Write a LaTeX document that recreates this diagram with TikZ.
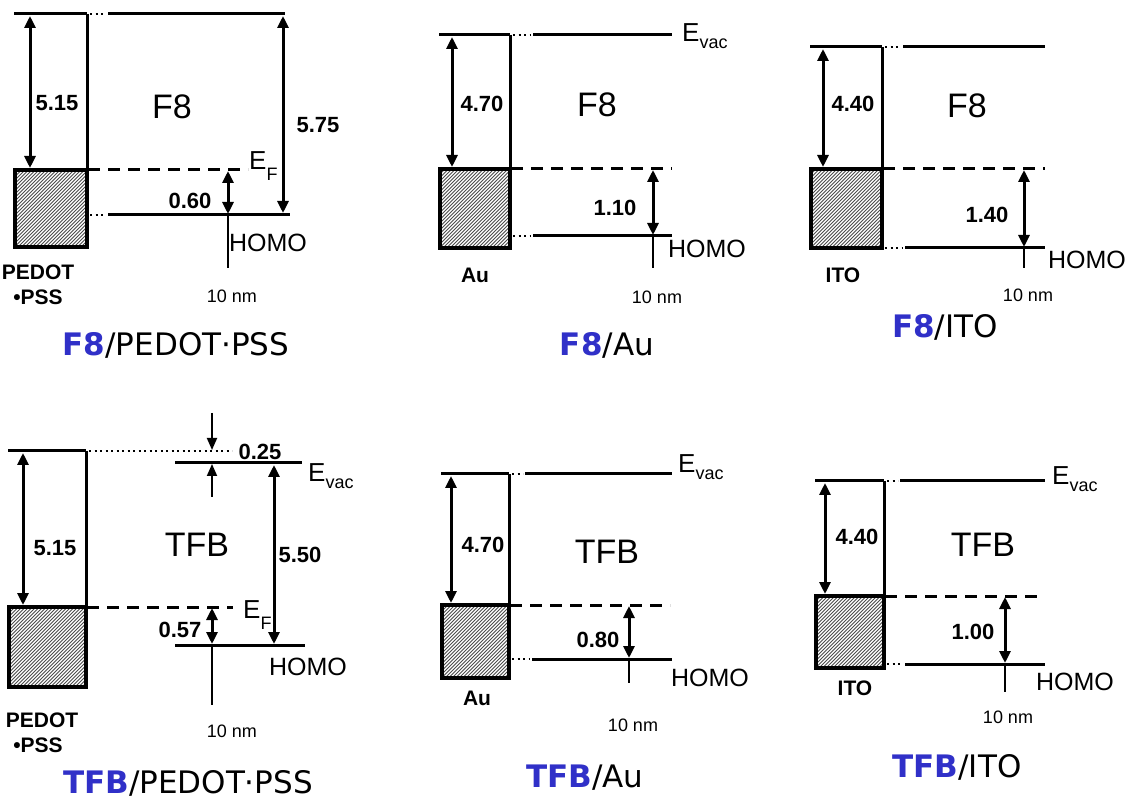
\documentclass[tikz,border=0pt]{standalone}
\usepackage{fontspec}
\usepackage{graphicx}
\setmainfont{Liberation Sans}
\newfontfamily\titlefont{DejaVu Sans}
\usetikzlibrary{arrows.meta}
\definecolor{tblue}{RGB}{48,48,200}
\newcommand\lsub[2]{\raisebox{#1}{\fontsize{18}{18}\selectfont #2}}
\begin{document}
\begin{tikzpicture}[x=1pt,y=-1pt,
  lvl/.style={line width=3pt},
  dotl/.style={line width=2.6pt, dash pattern=on 2pt off 3.5pt},
  dashl/.style={line width=3pt, dash pattern=on 12pt off 8pt},
  thinl/.style={line width=1.6pt},
  dim/.style={line width=3pt, {Triangle[length=12pt,width=11pt]}-{Triangle[length=12pt,width=11pt]}},
  onearr/.style={line width=1.8pt, -{Triangle[length=12pt,width=10pt]}},
  metal/.style={line width=4pt, path picture={
      \foreach \i in {0,3.5,...,220}{\draw[black!70,line width=0.8pt]
        ([xshift={(\i-130)*1pt}]path picture bounding box.south west) -- ++(130pt,130pt);}}},
  num/.style={font=\fontsize{22}{22}\selectfont\bfseries, inner sep=0},
  mat/.style={font=\fontsize{34}{34}\selectfont, inner sep=0},
  homo/.style={font=\fontsize{25}{25}\selectfont, inner sep=0},
  ev/.style={font=\fontsize{26}{26}\selectfont, inner sep=0, anchor=base west},
  nm/.style={font=\fontsize{18}{18}\selectfont, inner sep=0},
  elec/.style={font=\fontsize{21}{21}\selectfont\bfseries, inner sep=0},
  ttl/.style={font=\fontsize{31}{31}\selectfont\titlefont, inner sep=0},
]
\useasboundingbox (0,0) rectangle (1128,799);
\fill[white] (0,0) rectangle (1128,799);

% ================= Panel 1: F8/PEDOT:PSS =================
\draw[lvl] (14,14) -- (87,14);
\draw[dotl] (90,14) -- (106,14);
\draw[lvl] (108,14) -- (285,14);
\draw[lvl] (87,14) -- (87,170);
\draw[metal] (15,170) rectangle (87,247);
\draw[dim] (30,16) -- (30,168);
\draw[dashl] (88,170) -- (248,170);
\draw[dim] (228,171) -- (228,214);
\draw[thinl] (228,215) -- (228,268);
\draw[dotl] (90,215) -- (106,215);
\draw[lvl] (108,215) -- (290,215);
\draw[dim] (283,16) -- (283,213);
\node[num] (p1a) at (57,103) {5.15};
\node[mat] (p1m) at (172,107) {F8};
\node[num] (p1b) at (318,125) {5.75};
\node[ev] (p1ef) at (249,170) {E\lsub{-11pt}{F}};
\node[num] (p1c) at (190,201) {0.60};
\node[homo] (p1h) at (268,243) {HOMO};
\node[nm] (p1n) at (232,296) {10 nm};
\node[elec] (p1e1) at (38,272) {PEDOT};
\node[elec] (p1e2) at (38,297) {•PSS};
\node[ttl] (p1t) at (176,345) {\textcolor{tblue}{\bfseries F8}/PEDOT·PSS};

% ================= Panel 2: F8/Au =================
\draw[lvl] (439,35) -- (510,35);
\draw[dotl] (513,35) -- (530,35);
\draw[lvl] (533,35) -- (672,35);
\draw[lvl] (510,35) -- (510,169);
\draw[metal] (440,169) rectangle (510,248);
\draw[dim] (452,37) -- (452,167);
\draw[dashl] (511,169) -- (672,169);
\draw[dim] (653,170) -- (653,235);
\draw[thinl] (653,236) -- (653,268);
\draw[dotl] (513,236) -- (530,236);
\draw[lvl] (533,236) -- (672,236);
\node[ev] (p2ev) at (682,42) {E\lsub{-7pt}{vac}};
\node[num] (p2a) at (482,104) {4.70};
\node[mat] (p2m) at (597,105) {F8};
\node[num] (p2c) at (615,208) {1.10};
\node[homo] (p2h) at (707,249) {HOMO};
\node[elec] (p2e) at (475,275) {Au};
\node[nm] (p2n) at (657,297) {10 nm};
\node[ttl] (p2t) at (607,345) {\textcolor{tblue}{\bfseries F8}/Au};

% ================= Panel 3: F8/ITO =================
\draw[lvl] (810,47) -- (882,47);
\draw[dotl] (885,47) -- (901,47);
\draw[lvl] (903,47) -- (1045,47);
\draw[lvl] (882,47) -- (882,169);
\draw[metal] (811,169) rectangle (882,248);
\draw[dim] (823,49) -- (823,167);
\draw[dashl] (883,169) -- (1045,169);
\draw[dim] (1024,170) -- (1024,247);
\draw[thinl] (1024,248) -- (1024,268);
\draw[dotl] (885,248) -- (902,248);
\draw[lvl] (905,248) -- (1045,248);
\node[num] (p3a) at (853,104) {4.40};
\node[mat] (p3m) at (967,106) {F8};
\node[num] (p3c) at (987,215) {1.40};
\node[homo] (p3h) at (1087,260) {HOMO};
\node[elec] (p3e) at (843,275) {ITO};
\node[nm] (p3n) at (1028,295) {10 nm};
\node[ttl] (p3t) at (945,327) {\textcolor{tblue}{\bfseries F8}/ITO};

% ================= Panel 4: TFB/PEDOT:PSS =================
\draw[lvl] (8,451) -- (86,451);
\draw[dotl] (89,451) -- (232,451);
\draw[lvl] (86,451) -- (86,607);
\draw[metal] (9,607) rectangle (86,687);
\draw[dim] (23,453) -- (23,605);
\draw[lvl] (175,463) -- (302,463);
\draw[onearr] (212,413) -- (212,450);
\draw[onearr] (212,497) -- (212,464);
\draw[dim] (274,465) -- (274,644);
\draw[dashl] (87,607) -- (233,607);
\draw[dim] (212,608) -- (212,644);
\draw[thinl] (212,645) -- (212,705);
\draw[lvl] (175,645) -- (305,645);
\node[num] (p4a) at (55,548) {5.15};
\node[num] (p4d) at (260,452) {0.25};
\node[ev] (p4ev) at (308,482) {E\lsub{-7pt}{vac}};
\node[mat] (p4m) at (197,545) {TFB};
\node[num] (p4b) at (300,555) {5.50};
\node[ev] (p4ef) at (243,618) {E\lsub{-11pt}{F}};
\node[num] (p4c) at (180,630) {0.57};
\node[homo] (p4h) at (308,667) {HOMO};
\node[elec] (p4e1) at (42,720) {PEDOT};
\node[elec] (p4e2) at (38,745) {•PSS};
\node[nm] (p4n) at (232,731) {10 nm};
\node[ttl] (p4t) at (188,783) {\textcolor{tblue}{\bfseries TFB}/PEDOT·PSS};

% ================= Panel 5: TFB/Au =================
\draw[lvl] (441,474) -- (509,474);
\draw[dotl] (512,474) -- (523,474);
\draw[lvl] (525,474) -- (672,474);
\draw[lvl] (509,474) -- (509,605);
\draw[metal] (442,605) rectangle (509,678);
\draw[dim] (451,476) -- (451,603);
\draw[dashl] (510,605) -- (670,605);
\draw[dim] (629,606) -- (629,658);
\draw[thinl] (629,659) -- (629,683);
\draw[dotl] (512,659) -- (529,659);
\draw[lvl] (532,659) -- (672,659);
\node[ev] (p5ev) at (678,473) {E\lsub{-7pt}{vac}};
\node[num] (p5a) at (483,545) {4.70};
\node[mat] (p5m) at (607,552) {TFB};
\node[num] (p5c) at (598,640) {0.80};
\node[homo] (p5h) at (710,678) {HOMO};
\node[elec] (p5e) at (477,698) {Au};
\node[nm] (p5n) at (633,725) {10 nm};
\node[ttl] (p5t) at (585,778) {\textcolor{tblue}{\bfseries TFB}/Au};

% ================= Panel 6: TFB/ITO =================
\draw[lvl] (815,481) -- (884,481);
\draw[dotl] (887,481) -- (898,481);
\draw[lvl] (900,481) -- (1045,481);
\draw[lvl] (884,481) -- (884,596);
\draw[metal] (816,596) rectangle (884,668);
\draw[dim] (825,483) -- (825,594);
\draw[dashl] (885,596) -- (1043,596);
\draw[dim] (1005,597) -- (1005,663);
\draw[thinl] (1005,664) -- (1005,692);
\draw[dotl] (887,664) -- (902,664);
\draw[lvl] (905,664) -- (1045,664);
\node[ev] (p6ev) at (1052,485) {E\lsub{-7pt}{vac}};
\node[num] (p6a) at (857,537) {4.40};
\node[mat] (p6m) at (983,545) {TFB};
\node[num] (p6c) at (973,632) {1.00};
\node[homo] (p6h) at (1075,682) {HOMO};
\node[elec] (p6e) at (855,688) {ITO};
\node[nm] (p6n) at (1008,717) {10 nm};
\node[ttl] (p6t) at (957,767) {\textcolor{tblue}{\bfseries TFB}/ITO};
\end{tikzpicture}
\end{document}
